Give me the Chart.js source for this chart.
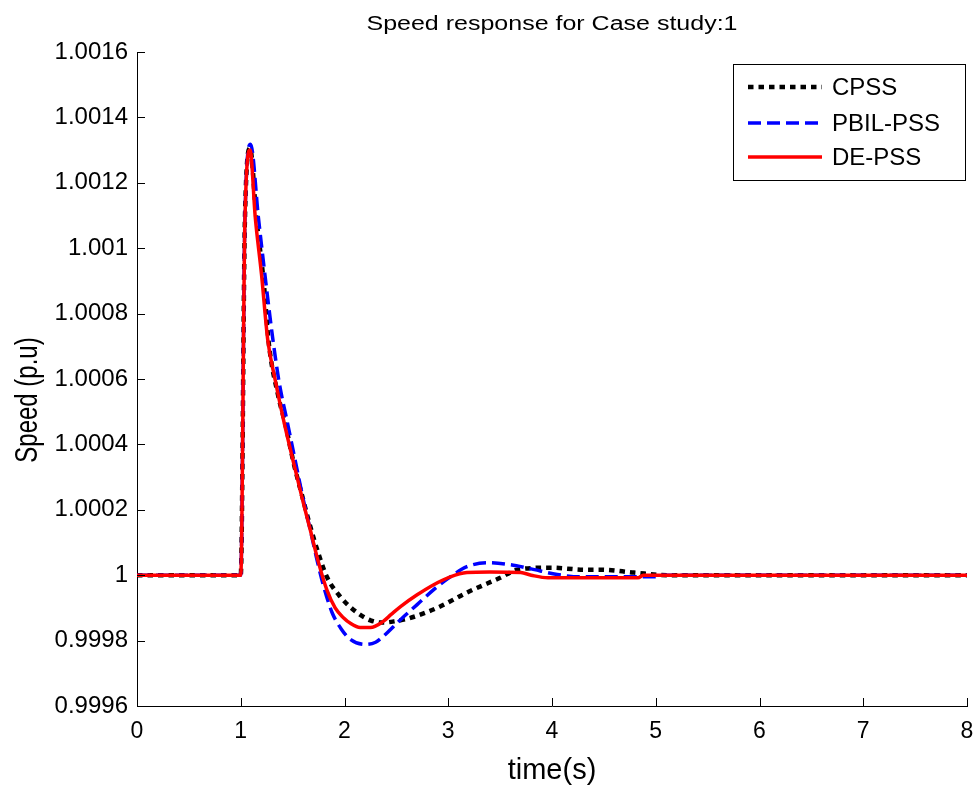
<!DOCTYPE html>
<html>
<head>
<meta charset="utf-8">
<title>Speed response for Case study:1</title>
<script src="https://cdn.jsdelivr.net/npm/chart.js@4.4.0/dist/chart.umd.min.js"></script>
<style>
  html, body { margin: 0; padding: 0; background: #ffffff; }
  #wrap { width: 978px; height: 789px; }
</style>
</head>
<body>
<div id="wrap"><canvas id="speedChart" width="978" height="789"></canvas></div>
<script>
// Rotor speed (p.u.) after the disturbance at t = 1 s, for three stabiliser designs.
const seriesNames = ['CPSS', 'PBIL-PSS', 'DE-PSS'];

const cpssTime  = [0, 1.0, 1.04, 1.09, 1.15, 1.22, 1.27, 1.36, 1.43, 1.51, 1.59, 1.67, 1.75, 1.83, 1.96, 2.12, 2.25, 2.37, 2.5, 2.61, 2.9, 3.18, 3.5, 3.67, 3.99, 4.31, 4.47, 4.79, 5.11, 8];
const cpssSpeed = [1.0, 1.0, 1.001085, 1.001305, 1.001094, 1.0009, 1.00071, 1.00055, 1.000462, 1.000343, 1.000245, 1.000149, 1.000065, 0.999995, 0.999934, 0.999886, 0.999862, 0.999855, 0.99986, 0.999867, 0.999901, 0.999947, 0.999992, 1.000017, 1.000023, 1.000017, 1.000017, 1.000008, 1.0, 1.0];

const pbilTime  = [0, 1.0, 1.04, 1.095, 1.17, 1.24, 1.31, 1.37, 1.45, 1.53, 1.60, 1.67, 1.74, 1.80, 1.88, 1.97, 2.06, 2.2, 2.3, 2.37, 2.54, 2.7, 2.86, 3.02, 3.18, 3.38, 3.6, 3.79, 4.05, 4.28, 5.0, 5.05, 8];
const pbilSpeed = [1.0, 1.0, 1.001085, 1.001318, 1.001094, 1.0009, 1.00072, 1.00059, 1.000466, 1.000343, 1.000235, 1.000139, 1.00004, 0.999965, 0.999886, 0.999835, 0.999803, 0.999788, 0.999795, 0.999812, 0.999864, 0.99991, 0.999956, 0.999995, 1.000026, 1.000038, 1.000032, 1.00002, 1.000002, 0.999995, 0.999995, 1.0, 1.0];

const deTime  = [0, 1.0, 1.04, 1.09, 1.14, 1.20, 1.26, 1.33, 1.41, 1.51, 1.60, 1.67, 1.74, 1.83, 1.91, 1.99, 2.06, 2.15, 2.25, 2.37, 2.45, 2.54, 2.70, 2.86, 3.02, 3.18, 3.40, 3.70, 3.80, 3.96, 4.83, 4.88, 8];
const deSpeed = [1.0, 1.0, 1.00108, 1.0013, 1.001094, 1.00092, 1.00072, 1.0006, 1.000478, 1.000343, 1.000225, 1.000139, 1.00005, 0.999955, 0.9999, 0.99987, 0.999852, 0.99984, 0.99984, 0.999858, 0.99988, 0.999904, 0.99994, 0.999971, 0.999995, 1.000008, 1.00001, 1.000008, 1.0, 0.999992, 0.999992, 1.0, 1.0];

const xTickValues = [0, 1, 2, 3, 4, 5, 6, 7, 8];
const yTickValues = [0.9996, 0.9998, 1.0, 1.0002, 1.0004, 1.0006, 1.0008, 1.001, 1.0012, 1.0014, 1.0016];
const yTickLabels = ['0.9996', '0.9998', '1', '1.0002', '1.0004', '1.0006', '1.0008', '1.001', '1.0012', '1.0014', '1.0016'];

const chartTitle = 'Speed response for Case study:1';
const xAxisTitle = 'time(s)';
const yAxisTitle = 'Speed (p.u)';

const FONT = "'Liberation Sans', Arial, Helvetica, sans-serif";

function toPoints(ts, vs) {
  return ts.map((t, i) => ({ x: t, y: vs[i] }));
}

// Tick marks pointing into the plot, as on a classic engineering plot.
const inwardTicks = {
  id: 'inwardTicks',
  afterDraw(chart) {
    const { ctx, chartArea, scales } = chart;
    ctx.save();
    ctx.strokeStyle = '#000';
    ctx.lineWidth = 1;
    ctx.beginPath();
    xTickValues.forEach(v => {
      const px = Math.round(scales.x.getPixelForValue(v)) + 0.5;
      ctx.moveTo(px, chartArea.bottom);
      ctx.lineTo(px, chartArea.bottom - 8);
    });
    yTickValues.forEach(v => {
      const py = Math.round(scales.y.getPixelForValue(v)) + 0.5;
      ctx.moveTo(chartArea.left, py);
      ctx.lineTo(chartArea.left + 8, py);
    });
    ctx.stroke();
    ctx.restore();
  }
};

// Plot title centred over the axes and the rotated y-axis title, both in a wide face.
const axesTitles = {
  id: 'axesTitles',
  afterDraw(chart) {
    const { ctx, chartArea } = chart;
    ctx.save();
    ctx.fillStyle = '#000';
    ctx.textAlign = 'center';
    ctx.textBaseline = 'alphabetic';
    // title
    ctx.save();
    ctx.translate((chartArea.left + chartArea.right) / 2, 30);
    ctx.scale(1.25, 1);
    ctx.font = '20px ' + FONT;
    ctx.fillText(chartTitle, 0, 0);
    ctx.restore();
    // y-axis title
    ctx.save();
    ctx.translate(37, 400);
    ctx.scale(1.3, 1);
    ctx.rotate(-Math.PI / 2);
    ctx.font = '24px ' + FONT;
    ctx.fillText(yAxisTitle, 0, 0);
    ctx.restore();
    ctx.restore();
  }
};

// Boxed legend in the upper right corner of the axes.
const boxedLegend = {
  id: 'boxedLegend',
  afterDraw(chart) {
    const { ctx, chartArea } = chart;
    const right = chartArea.right - 2;
    const left = right - 232;
    const top = chartArea.top + 12;
    const height = 116;
    ctx.save();
    ctx.fillStyle = '#fff';
    ctx.fillRect(left, top, right - left, height);
    ctx.strokeStyle = '#000';
    ctx.lineWidth = 1;
    ctx.strokeRect(Math.round(left) + 0.5, Math.round(top) + 0.5, right - left, height);
    const rows = [23, 59, 93];
    chart.data.datasets.forEach((ds, i) => {
      const y = top + rows[i];
      ctx.beginPath();
      ctx.strokeStyle = ds.borderColor;
      ctx.lineWidth = ds.borderWidth;
      ctx.setLineDash(ds.borderDash || []);
      ctx.lineCap = 'butt';
      ctx.moveTo(left + 15, y);
      ctx.lineTo(left + 89, y);
      ctx.stroke();
      ctx.setLineDash([]);
      ctx.fillStyle = '#000';
      ctx.font = '24px ' + FONT;
      ctx.textBaseline = 'middle';
      ctx.textAlign = 'left';
      ctx.fillText(ds.label, left + 99, y + 1);
    });
    ctx.restore();
  }
};

const ctx = document.getElementById('speedChart').getContext('2d');
new Chart(ctx, {
  type: 'line',
  data: {
    datasets: [
      {
        label: seriesNames[0],
        data: toPoints(cpssTime, cpssSpeed),
        borderColor: '#000000',
        borderWidth: 4.5,
        borderDash: [5.5, 5],
        order: 2
      },
      {
        label: seriesNames[1],
        data: toPoints(pbilTime, pbilSpeed),
        borderColor: '#0000ff',
        borderWidth: 3.5,
        borderDash: [13, 6],
        order: 1
      },
      {
        label: seriesNames[2],
        data: toPoints(deTime, deSpeed),
        borderColor: '#ff0000',
        borderWidth: 3.5,
        order: 0
      }
    ]
  },
  options: {
    responsive: false,
    animation: false,
    parsing: false,
    elements: {
      point: { radius: 0, hoverRadius: 0 },
      line: { cubicInterpolationMode: 'monotone', fill: false, borderCapStyle: 'butt', borderJoinStyle: 'round' }
    },
    layout: { padding: { left: 0, right: 11, top: 52, bottom: 0 } },
    plugins: {
      legend: { display: false },
      tooltip: { enabled: false },
      title: { display: false }
    },
    scales: {
      x: {
        type: 'linear',
        min: 0,
        max: 8,
        afterFit(scale) { scale.height = 83; scale.paddingLeft = 0; scale.paddingRight = 0; },
        afterBuildTicks(scale) { scale.ticks = xTickValues.map(v => ({ value: v })); },
        grid: { display: true, drawOnChartArea: false, drawTicks: false, color: '#000' },
        border: { display: true, color: '#000', width: 1 },
        ticks: {
          color: '#000',
          padding: 12,
          maxRotation: 0,
          font: { family: FONT, size: 23 },
          callback: (v) => String(v)
        },
        title: {
          display: true,
          text: xAxisTitle,
          color: '#000',
          font: { family: FONT, size: 29 },
          padding: { top: 0, bottom: 1 }
        }
      },
      y: {
        type: 'linear',
        min: 0.9996,
        max: 1.0016,
        afterFit(scale) { scale.width = 137; scale.paddingTop = 0; scale.paddingBottom = 0; },
        afterBuildTicks(scale) { scale.ticks = yTickValues.map(v => ({ value: v })); },
        grid: { display: true, drawOnChartArea: false, drawTicks: false, color: '#000' },
        border: { display: true, color: '#000', width: 1 },
        ticks: {
          color: '#000',
          padding: 9,
          font: { family: FONT, size: 24 },
          callback: (v, i) => yTickLabels[i]
        },
        title: { display: false }
      }
    }
  },
  plugins: [inwardTicks, axesTitles, boxedLegend]
});
</script>
</body>
</html>
